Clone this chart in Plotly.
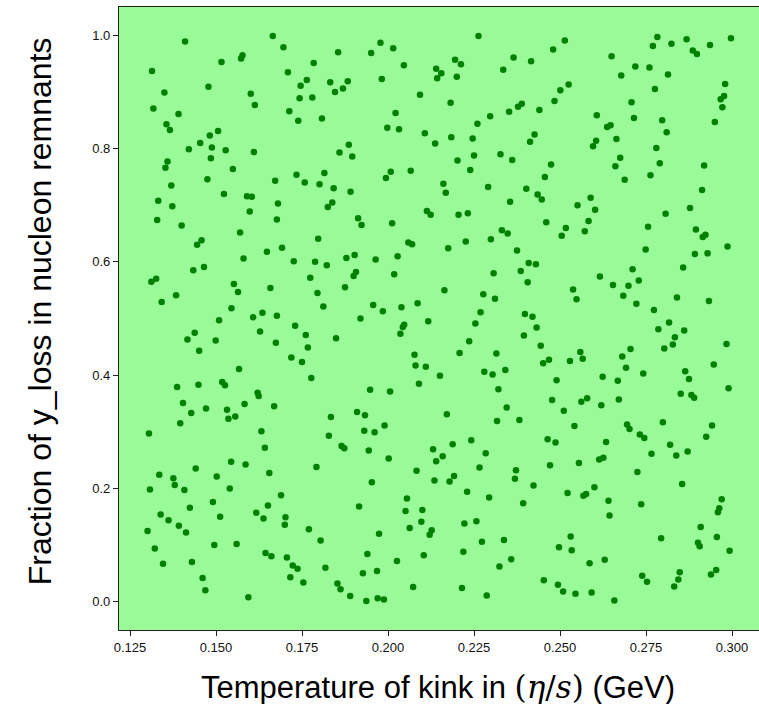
import plotly.graph_objects as go

# (temperature of kink [GeV], fraction of y_loss), grouped by region
region_top_left = [
    (0.1410,0.989),(0.1665,0.999),(0.1577,0.965),(0.1573,0.959),(0.1516,0.953),(0.1314,0.937),
    (0.1478,0.909),(0.1350,0.899),(0.1601,0.897),(0.1613,0.877),(0.1318,0.871),(0.1391,0.861),
    (0.1356,0.843),(0.1366,0.833),(0.1506,0.831),(0.1482,0.823),(0.1454,0.810),(0.1488,0.802),
    (0.1421,0.799),(0.1528,0.797),(0.1610,0.794),(0.1485,0.783),(0.1359,0.777),(0.1353,0.766),
    (0.1549,0.764),(0.1475,0.746),(0.1672,0.743),(0.1370,0.735),(0.1332,0.708),(0.1523,0.720),
    (0.1590,0.716),(0.1604,0.715),(0.1373,0.698),(0.1598,0.689),(0.1680,0.703),
]
region_top_midleft = [
    (0.1696,0.979),(0.1855,0.970),(0.1978,0.987),(0.1951,0.969),(0.2015,0.977),(0.1784,0.951),
    (0.2046,0.947),(0.2140,0.941),(0.2143,0.924),(0.1709,0.935),(0.1764,0.921),(0.1746,0.911),
    (0.1832,0.917),(0.1883,0.919),(0.1869,0.906),(0.1846,0.900),(0.1982,0.923),(0.1743,0.889),
    (0.1780,0.890),(0.2093,0.895),(0.1713,0.866),(0.1739,0.849),(0.1808,0.853),(0.2022,0.863),
    (0.1998,0.837),(0.2032,0.834),(0.2107,0.827),(0.2137,0.809),(0.1886,0.807),(0.1859,0.793),
    (0.1896,0.786),(0.1734,0.754),(0.1815,0.757),(0.1758,0.740),(0.1801,0.737),(0.1842,0.730),
    (0.1891,0.724),(0.2008,0.759),(0.1994,0.748),(0.2066,0.761),(0.1838,0.705),(0.1825,0.697),
    (0.2113,0.690),(0.2124,0.683),
]
region_top_midright = [
    (0.2263,0.999),(0.2514,0.991),(0.2480,0.975),(0.2195,0.957),(0.2212,0.949),(0.2365,0.961),
    (0.2416,0.954),(0.2335,0.939),(0.2155,0.933),(0.2200,0.927),(0.2525,0.913),(0.2501,0.903),
    (0.2484,0.884),(0.2182,0.881),(0.2378,0.874),(0.2389,0.879),(0.2352,0.865),(0.2440,0.868),
    (0.2297,0.857),(0.2607,0.859),(0.2260,0.844),(0.2184,0.820),(0.2246,0.818),(0.2426,0.825),
    (0.2413,0.812),(0.2605,0.814),(0.2596,0.804),(0.2250,0.788),(0.2202,0.779),(0.2327,0.790),
    (0.2361,0.780),(0.2239,0.762),(0.2474,0.772),(0.2456,0.750),(0.2161,0.738),(0.2168,0.722),
    (0.2291,0.732),(0.2402,0.729),(0.2435,0.719),(0.2447,0.710),(0.2355,0.706),(0.2589,0.713),
    (0.2551,0.700),(0.2602,0.692),(0.2205,0.683),(0.2232,0.686),
]
region_top_right = [
    (0.2783,0.997),(0.2770,0.981),(0.2824,0.985),(0.2868,0.993),(0.2886,0.973),(0.2898,0.967),
    (0.2936,0.983),(0.2997,0.995),(0.2650,0.963),(0.2719,0.945),(0.2760,0.943),(0.2678,0.929),
    (0.2814,0.931),(0.2776,0.905),(0.2980,0.914),(0.2977,0.893),(0.2967,0.887),(0.2972,0.873),
    (0.2708,0.882),(0.2715,0.854),(0.2797,0.850),(0.2950,0.847),(0.2637,0.838),(0.2647,0.841),
    (0.2810,0.829),(0.2664,0.817),(0.2780,0.801),(0.2675,0.784),(0.2661,0.769),(0.2790,0.774),
    (0.2919,0.770),(0.2688,0.745),(0.2763,0.753),(0.2913,0.727),(0.2878,0.695),(0.2807,0.685),
]
region_mid_left = [
    (0.1329,0.674),(0.1400,0.664),(0.1570,0.652),(0.1445,0.630),(0.1458,0.638),(0.1648,0.618),
    (0.1580,0.606),(0.1434,0.585),(0.1465,0.591),(0.1312,0.565),(0.1326,0.570),(0.1552,0.561),
    (0.1564,0.547),(0.1658,0.554),(0.1384,0.541),(0.1342,0.529),(0.1545,0.518),(0.1635,0.510),
    (0.1608,0.502),(0.1677,0.505),(0.1509,0.497),(0.1438,0.475),(0.1417,0.463),(0.1499,0.461),
    (0.1628,0.477),(0.1674,0.457),(0.1451,0.443),(0.1567,0.411),(0.1387,0.379),(0.1449,0.383),
    (0.1518,0.388),(0.1526,0.382),(0.1621,0.369),(0.1624,0.363),(0.1404,0.351),(0.1428,0.333),
    (0.1471,0.341),(0.1532,0.339),(0.1536,0.323),(0.1556,0.327),(0.1583,0.349),(0.1669,0.345),
    (0.1396,0.315),(0.1677,0.675),
]
region_mid_midleft = [
    (0.1913,0.677),(0.1923,0.665),(0.2012,0.668),(0.1797,0.641),(0.1692,0.625),(0.2059,0.634),
    (0.2070,0.631),(0.1726,0.601),(0.1788,0.600),(0.1822,0.594),(0.1879,0.607),(0.1903,0.612),
    (0.1964,0.604),(0.2028,0.610),(0.1907,0.582),(0.1900,0.575),(0.2018,0.578),(0.1774,0.572),
    (0.1875,0.555),(0.1795,0.545),(0.1812,0.521),(0.1957,0.524),(0.1985,0.513),(0.2039,0.520),
    (0.2086,0.527),(0.1920,0.500),(0.2117,0.495),(0.2047,0.489),(0.2043,0.485),(0.2036,0.473),
    (0.1730,0.487),(0.1761,0.471),(0.1849,0.465),(0.1767,0.449),(0.1719,0.431),(0.1750,0.423),
    (0.2077,0.436),(0.2080,0.417),(0.2110,0.415),(0.2090,0.385),(0.1777,0.395),(0.1948,0.374),
    (0.2006,0.371),(0.1834,0.326),(0.1910,0.335),(0.1933,0.329),(0.1990,0.311),
]
region_mid_midright = [
    (0.2460,0.670),(0.2583,0.672),(0.2517,0.660),(0.2505,0.646),(0.2572,0.654),(0.2331,0.656),
    (0.2348,0.650),(0.2299,0.640),(0.2226,0.636),(0.2175,0.624),(0.2375,0.620),(0.2409,0.598),
    (0.2430,0.596),(0.2307,0.580),(0.2386,0.584),(0.2406,0.564),(0.2164,0.550),(0.2277,0.543),
    (0.2311,0.535),(0.2538,0.551),(0.2548,0.534),(0.2269,0.511),(0.2254,0.491),(0.2398,0.508),
    (0.2420,0.503),(0.2432,0.484),(0.2395,0.470),(0.2236,0.460),(0.2444,0.452),(0.2208,0.439),
    (0.2315,0.438),(0.2559,0.441),(0.2566,0.429),(0.2451,0.421),(0.2468,0.427),(0.2529,0.425),
    (0.2151,0.399),(0.2280,0.406),(0.2304,0.401),(0.2341,0.409),(0.2490,0.391),(0.2321,0.375),
    (0.2477,0.356),(0.2562,0.353),(0.2579,0.359),(0.2345,0.343),(0.2511,0.337),(0.2171,0.331),
    (0.2317,0.319),(0.2382,0.321),(0.2542,0.310),
]
region_mid_right = [
    (0.2756,0.662),(0.2895,0.657),(0.2923,0.648),(0.2915,0.644),(0.2987,0.627),(0.2749,0.622),
    (0.2892,0.614),(0.2929,0.615),(0.2858,0.590),(0.2711,0.587),(0.2616,0.574),(0.2654,0.559),
    (0.2699,0.558),(0.2729,0.567),(0.2684,0.540),(0.2840,0.537),(0.2933,0.531),(0.2722,0.526),
    (0.2773,0.515),(0.2817,0.493),(0.2786,0.481),(0.2861,0.479),(0.2834,0.467),(0.2828,0.454),
    (0.2803,0.447),(0.2984,0.455),(0.2705,0.446),(0.2681,0.433),(0.2692,0.413),(0.2947,0.419),
    (0.2624,0.397),(0.2668,0.390),(0.2742,0.403),(0.2864,0.407),(0.2875,0.393),(0.2851,0.367),
    (0.2882,0.365),(0.2890,0.360),(0.2990,0.377),(0.2671,0.357),(0.2620,0.347),(0.2799,0.317),
    (0.2695,0.313),(0.2942,0.311),
]
region_bot_left = [
    (0.1305,0.297),(0.1632,0.301),(0.1642,0.272),(0.1335,0.224),(0.1376,0.218),(0.1380,0.206),
    (0.1308,0.198),(0.1408,0.197),(0.1441,0.235),(0.1502,0.221),(0.1544,0.247),(0.1586,0.242),
    (0.1655,0.227),(0.1540,0.200),(0.1491,0.176),(0.1424,0.166),(0.1651,0.170),(0.1339,0.154),
    (0.1362,0.144),(0.1512,0.150),(0.1617,0.157),(0.1638,0.147),(0.1392,0.134),(0.1301,0.125),
    (0.1413,0.122),(0.1322,0.094),(0.1495,0.100),(0.1560,0.102),(0.1644,0.086),(0.1661,0.080),
    (0.1346,0.067),(0.1430,0.070),(0.1461,0.042),(0.1469,0.020),(0.1594,0.008),
]
region_bot_midleft = [
    (0.1828,0.293),(0.1931,0.302),(0.1961,0.299),(0.1865,0.275),(0.1873,0.271),(0.1944,0.267),
    (0.2002,0.253),(0.2131,0.269),(0.2140,0.248),(0.1792,0.238),(0.2083,0.231),(0.2135,0.214),
    (0.1953,0.211),(0.1689,0.188),(0.1916,0.168),(0.2055,0.182),(0.2051,0.160),(0.2100,0.162),
    (0.1702,0.149),(0.1700,0.136),(0.1770,0.128),(0.1804,0.108),(0.1974,0.120),(0.2063,0.130),
    (0.2097,0.141),(0.2127,0.126),(0.2121,0.118),(0.1706,0.078),(0.1723,0.064),(0.1737,0.058),
    (0.1716,0.043),(0.1754,0.034),(0.1818,0.060),(0.1940,0.084),(0.1927,0.050),(0.1968,0.054),
    (0.2026,0.072),(0.2104,0.082),(0.1853,0.032),(0.1862,0.022),(0.1890,0.010),(0.1937,0.001),
    (0.1970,0.006),(0.1988,0.004),(0.2073,0.026),
]
region_bot_midright = [
    (0.2188,0.278),(0.2242,0.285),(0.2159,0.257),(0.2284,0.262),(0.2464,0.287),(0.2487,0.281),
    (0.2266,0.237),(0.2192,0.222),(0.2179,0.212),(0.2372,0.232),(0.2369,0.217),(0.2471,0.241),
    (0.2555,0.245),(0.2423,0.205),(0.2230,0.194),(0.2294,0.184),(0.2393,0.174),(0.2522,0.192),
    (0.2568,0.187),(0.2576,0.190),(0.2600,0.202),(0.2222,0.138),(0.2257,0.142),(0.2273,0.106),
    (0.2337,0.109),(0.2219,0.088),(0.2358,0.075),(0.2324,0.062),(0.2531,0.115),(0.2497,0.096),
    (0.2534,0.091),(0.2586,0.068),(0.2215,0.024),(0.2287,0.011),(0.2453,0.038),(0.2494,0.030),
    (0.2509,0.018),(0.2545,0.014),(0.2592,0.016),
]
region_bot_right = [
    (0.2702,0.305),(0.2732,0.295),(0.2745,0.289),(0.2634,0.282),(0.2614,0.251),(0.2626,0.254),
    (0.2766,0.261),(0.2820,0.277),(0.2838,0.258),(0.2871,0.265),(0.2925,0.291),(0.2725,0.229),
    (0.2855,0.208),(0.2641,0.178),(0.2736,0.172),(0.2644,0.152),(0.2970,0.181),(0.2963,0.165),
    (0.2959,0.158),(0.2909,0.132),(0.2956,0.114),(0.2901,0.104),(0.2906,0.098),(0.2794,0.112),
    (0.2993,0.090),(0.2630,0.074),(0.2739,0.046),(0.2753,0.035),(0.2848,0.052),(0.2844,0.039),
    (0.2832,0.027),(0.2954,0.056),(0.2939,0.048),(0.2658,0.002),
]

regions = [region_top_left, region_top_midleft, region_top_midright, region_top_right,
           region_mid_left, region_mid_midleft, region_mid_midright, region_mid_right,
           region_bot_left, region_bot_midleft, region_bot_midright, region_bot_right]

kink_temperature = [p[0] for r in regions for p in r]
yloss_fraction = [p[1] for r in regions for p in r]

x_ticks = [0.125, 0.150, 0.175, 0.200, 0.225, 0.250, 0.275, 0.300]
x_tick_text = ["0.125", "0.150", "0.175", "0.200", "0.225", "0.250", "0.275", "0.300"]
y_ticks = [0.0, 0.2, 0.4, 0.6, 0.8, 1.0]
y_tick_text = ["0.0", "0.2", "0.4", "0.6", "0.8", "1.0"]

fig = go.Figure()
fig.add_trace(go.Scatter(
    x=kink_temperature, y=yloss_fraction, mode="markers",
    marker=dict(size=6.5, color="#008000", line=dict(width=0)),
    showlegend=False, hoverinfo="x+y",
))

axis_common = dict(
    showgrid=False, zeroline=False, showline=True, linecolor="#222", linewidth=1.2,
    mirror=True, ticks="outside", ticklen=5, tickwidth=1, tickcolor="#222",
    tickfont=dict(family="Liberation Sans, Arial, sans-serif", size=13, color="#111"),
)

fig.update_layout(
    width=759, height=704,
    margin=dict(l=119, r=0, t=7, b=74),
    paper_bgcolor="white",
    plot_bgcolor="#98FB98",
    xaxis=dict(range=[0.1218, 0.30785], tickvals=x_ticks, ticktext=x_tick_text, **axis_common),
    yaxis=dict(range=[-0.05, 1.05], tickvals=y_ticks, ticktext=y_tick_text, **axis_common),
    annotations=[
        dict(
            text='Temperature of kink in <span style="font-family:DejaVu Serif">(<i>η</i>/<i>s</i>)</span> (GeV)',
            xref="paper", yref="paper", x=0.498, y=-0.0915,
            xanchor="center", yanchor="middle", showarrow=False,
            font=dict(family="Liberation Sans, Arial, sans-serif", size=31, color="black"),
        ),
        dict(
            text="Fraction of y_loss in nucleon remnants",
            xref="paper", yref="paper", x=-0.123, y=0.512,
            xanchor="center", yanchor="middle", showarrow=False, textangle=-90,
            font=dict(family="Liberation Sans, Arial, sans-serif", size=32, color="black"),
        ),
    ],
)

fig.write_html("out.html")
